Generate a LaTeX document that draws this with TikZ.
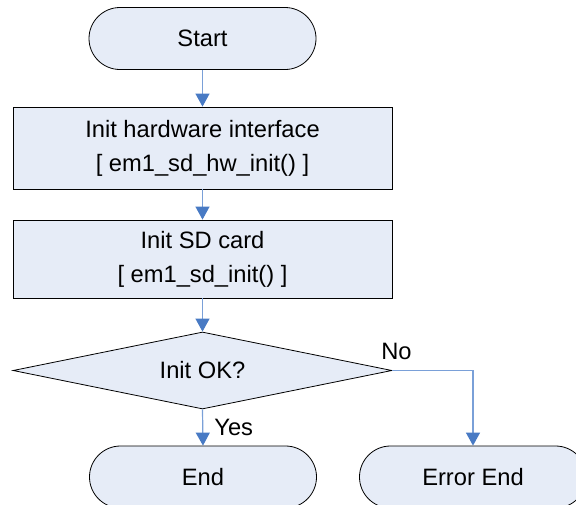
\documentclass[tikz,border=0pt]{standalone}
\usepackage{fontspec}
\setmainfont{Liberation Sans}
\usetikzlibrary{arrows.meta,shapes.geometric}
\definecolor{boxfill}{RGB}{230,236,247}
\definecolor{linkblue}{RGB}{122,160,216}
\definecolor{tipblue}{RGB}{72,122,196}
\begin{document}
\begin{tikzpicture}[x=1pt,y=-1pt,
  every node/.style={font=\fontsize{23.7}{34}\selectfont},
  terminal/.style={draw=black,line width=0.8pt,fill=boxfill,rectangle,
    rounded corners=31pt,minimum width=227pt,minimum height=62pt,inner sep=0pt},
  process/.style={draw=black,line width=0.8pt,fill=boxfill,rectangle,
    minimum width=379pt,inner sep=0pt,align=center},
  decision/.style={draw=black,line width=0.8pt,fill=boxfill,diamond,aspect=4.9,
    minimum width=379pt,minimum height=77pt,inner sep=0pt},
  conn/.style={draw=linkblue,line width=1.2pt,
    -{Triangle[width=14pt,length=13pt,color=tipblue]}},
  lbl/.style={inner sep=2pt}]
\useasboundingbox (0,0) rectangle (576,504);
\clip (0,0) rectangle (576,504);

\node[terminal] (start) at (202.5,38.5) {Start};
\node[process,minimum height=82pt] (hw) at (202.5,148)
  {Init hardware interface\\{[} em1\_sd\_hw\_init() ]};
\node[process,minimum height=78pt] (sd) at (202.5,259)
  {Init SD card\\{[} em1\_sd\_init() ]};
\node[decision] (ok) at (202.5,370.5) {Init OK?};
\node[terminal] (fin) at (203,477) {End};
\node[terminal] (err) at (473,477) {Error End};

\draw[conn] (start) -- (hw);
\draw[conn] (hw) -- (sd);
\draw[conn] (sd) -- (ok);
\draw[conn] (ok.south) -- node[lbl,right,pos=0.5,xshift=9pt] {Yes} (fin.north);
\draw[conn] (ok.east) -- node[lbl,above,pos=0.05,xshift=0pt,yshift=8pt] {No} (ok.east -| err.north) -- (err.north);
\end{tikzpicture}
\end{document}
